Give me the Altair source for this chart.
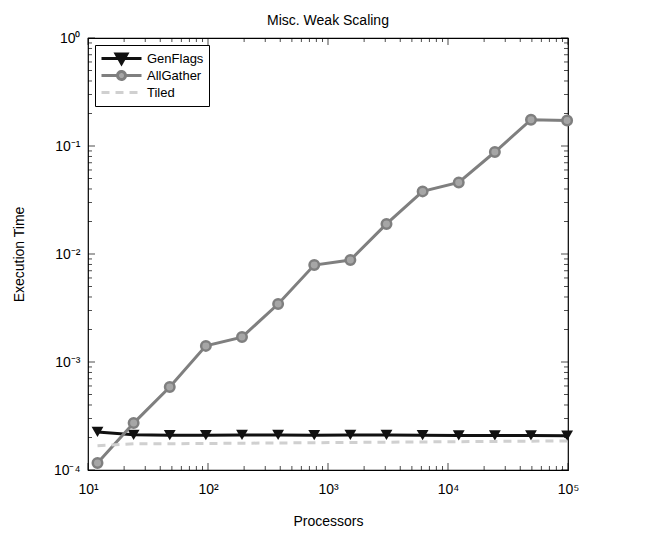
import altair as alt
import pandas as pd

# ---- data ----
procs = [12, 24, 48, 96, 192, 384, 768, 1536, 3072, 6144, 12288, 24576, 49152, 98304]
genflags = [2.25e-4, 2.12e-4, 2.10e-4, 2.10e-4, 2.11e-4, 2.11e-4, 2.10e-4, 2.11e-4,
            2.11e-4, 2.10e-4, 2.09e-4, 2.09e-4, 2.09e-4, 2.08e-4]
allgather = [1.16e-4, 2.72e-4, 5.87e-4, 1.41e-3, 1.70e-3, 3.44e-3, 7.9e-3, 8.8e-3,
             1.9e-2, 3.8e-2, 4.6e-2, 8.8e-2, 1.75e-1, 1.72e-1]
tiled = [1.68e-4, 1.75e-4, 1.75e-4, 1.76e-4, 1.77e-4, 1.78e-4, 1.79e-4, 1.80e-4,
         1.81e-4, 1.82e-4, 1.83e-4, 1.84e-4, 1.85e-4, 1.86e-4]

series_names = ["GenFlags", "AllGather", "Tiled"]
series_colors = ["#111111", "#7f7f7f", "#d0d0d0"]
series_fills = ["#111111", "#a6a6a6", "transparent"]
series_dashes = [[1, 0], [1, 0], [8, 6]]
series_glyphs = [
    "M-1,0H1M-0.27,-0.22L0.27,-0.22L0,0.25Z",
    "M-1,0H-0.2M0.2,0H1M0.2,0A0.2,0.2,0,1,1,-0.2,0A0.2,0.2,0,1,1,0.2,0",
    "M-1,0H1",
]

x_major = [10, 100, 1000, 10000, 100000]
x_labels = ["10¹", "10²", "10³", "10⁴", "10⁵"]
y_major = [1e-4, 1e-3, 1e-2, 1e-1, 1]
y_labels = ["10⁻⁴", "10⁻³", "10⁻²", "10⁻¹", "10⁰"]
x_minor = [m * 10 ** e for e in range(1, 5) for m in range(2, 10)]
y_minor = [m * 10.0 ** e for e in range(-4, 0) for m in range(2, 10)]

rows = []
for name, vals in zip(series_names, [genflags, allgather, tiled]):
    for p, v in zip(procs, vals):
        rows.append({"series": name, "x": p, "y": v})
df = pd.DataFrame(rows)

W, H = 480, 432
FONT = "Liberation Sans"


def label_expr(values, labels):
    expr = "''"
    for v, l in reversed(list(zip(values, labels))):
        expr = f"(datum.value < {v * 1.5}) ? '{l}' : {expr}"
    return expr


xscale = alt.Scale(type="log", domain=[10, 100000], nice=False)
yscale = alt.Scale(type="log", domain=[1e-4, 1], nice=False)

axis_style = dict(ticks=False, domain=False, grid=False, labelFlush=False, labelOverlap=False,
                  labelFont=FONT, titleFont=FONT, labelFontSize=14, titleFontSize=14,
                  labelColor="black", titleColor="black", titleFontWeight="normal")
xaxis = alt.Axis(values=x_major, labelExpr=label_expr(x_major, x_labels),
                 title="Processors", labelPadding=12, titlePadding=18, **axis_style)
yaxis = alt.Axis(values=y_major, labelExpr=label_expr(y_major, y_labels),
                 title="Execution Time", labelPadding=8, titlePadding=27, **axis_style)

xenc = alt.X("x:Q", scale=xscale, axis=xaxis)
yenc = alt.Y("y:Q", scale=yscale, axis=yaxis)


def mk_legend():
    return alt.Legend(
        title=None, orient="top-left", offset=7, padding=5, rowPadding=0,
        fillColor="white", strokeColor="black", symbolSize=1600, clipHeight=17,
        symbolStrokeWidth=3, symbolOpacity=1, labelFontSize=13, labelFont=FONT,
        labelColor="black", labelOffset=4,
    )


# legend-only layer (no rows drawn): carries the combined line+marker glyphs
legend_layer = alt.Chart(df).transform_filter("false").mark_point(
    size=1600, strokeWidth=3, opacity=1
).encode(
    shape=alt.Shape("series:N", scale=alt.Scale(domain=series_names, range=series_glyphs),
                    legend=mk_legend()),
    stroke=alt.Stroke("series:N", scale=alt.Scale(domain=series_names, range=series_colors),
                      legend=mk_legend()),
    fill=alt.Fill("series:N", scale=alt.Scale(domain=series_names, range=series_fills),
                  legend=mk_legend()),
    strokeDash=alt.StrokeDash("series:N", scale=alt.Scale(domain=series_names, range=series_dashes),
                              legend=mk_legend()),
)


def series_line(name, color, dash):
    kw = {"strokeDash": dash} if dash else {}
    return alt.Chart(df).transform_filter(alt.datum.series == name).mark_line(
        strokeWidth=3, color=color, **kw).encode(x=xenc, y=yenc)


line_g = series_line("GenFlags", series_colors[0], None)
line_a = series_line("AllGather", series_colors[1], None)
line_t = series_line("Tiled", series_colors[2], [8, 6])

tri = alt.Chart(df).transform_filter(alt.datum.series == "GenFlags").mark_point(
    shape="triangle-down", filled=True, size=140, color="#111111", opacity=1
).encode(x=xenc, y=yenc)

circ = alt.Chart(df).transform_filter(alt.datum.series == "AllGather").mark_point(
    shape="circle", filled=True, size=90, fill="#a6a6a6", stroke="#7f7f7f",
    strokeWidth=2.5, opacity=1
).encode(x=xenc, y=yenc)

xt_major = pd.DataFrame({"x": x_major})
xt_minor = pd.DataFrame({"x": x_minor})
yt_major = pd.DataFrame({"y": y_major})
yt_minor = pd.DataFrame({"y": y_minor})


def xticks(data, length):
    base = alt.Chart(data)
    bottom = base.mark_tick(orient="vertical", size=length, thickness=1, color="black").encode(
        x=xenc, y=alt.value(H - length / 2))
    top = base.mark_tick(orient="vertical", size=length, thickness=1, color="black").encode(
        x=xenc, y=alt.value(length / 2))
    return [bottom, top]


def yticks(data, length):
    base = alt.Chart(data)
    left = base.mark_tick(orient="horizontal", size=length, thickness=1, color="black").encode(
        y=yenc, x=alt.value(length / 2))
    right = base.mark_tick(orient="horizontal", size=length, thickness=1, color="black").encode(
        y=yenc, x=alt.value(W - length / 2))
    return [left, right]


tick_layers = xticks(xt_major, 7) + xticks(xt_minor, 4) + yticks(yt_major, 7) + yticks(yt_minor, 4)

chart = alt.layer(*tick_layers, line_g, tri, line_a, circ, line_t, legend_layer).properties(
    width=W, height=H,
    title=alt.Title("Misc. Weak Scaling", fontSize=14, fontWeight="normal", font=FONT,
                    color="black", offset=3, frame="group"),
    autosize=alt.AutoSizeParams(type="none"),
    padding={"left": 80, "top": 30, "right": 73, "bottom": 64},
    background="white",
).configure_view(
    stroke="black", strokeWidth=1.2
)

chart.save("out.html", embed_options={"renderer": "svg", "actions": False})
